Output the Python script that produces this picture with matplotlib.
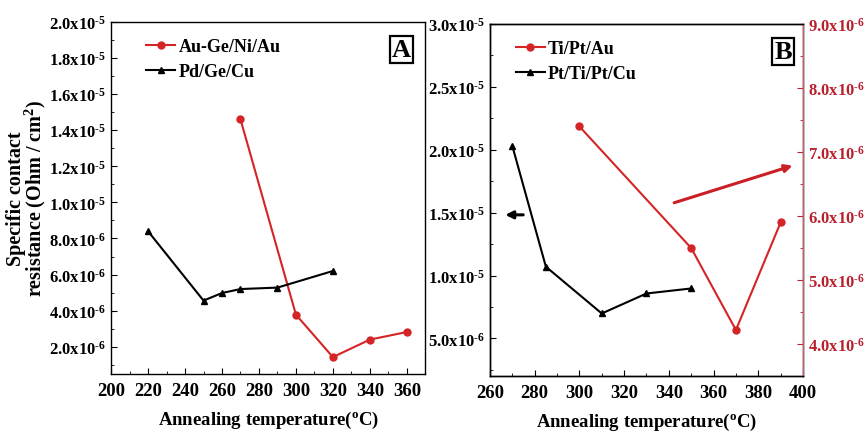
import matplotlib.pyplot as plt
from matplotlib.ticker import MultipleLocator, FuncFormatter

plt.rcParams["font.family"] = "Liberation Serif"
plt.rcParams["font.weight"] = "bold"
plt.rcParams["axes.labelweight"] = "bold"
plt.rcParams["mathtext.fontset"] = "custom"
plt.rcParams["mathtext.rm"] = "Liberation Serif:bold"
plt.rcParams["mathtext.it"] = "Liberation Serif:bold"
plt.rcParams["mathtext.bf"] = "Liberation Serif:bold"

RED = "#d42426"
AXRED = "#b8202e"

# panel A
temp_auge = [270, 300, 320, 340, 360]
rc_auge = [1.46e-5, 3.78e-6, 1.43e-6, 2.4e-6, 2.82e-6]
temp_pdge = [220, 250, 260, 270, 290, 320]
rc_pdge = [8.4e-6, 4.56e-6, 4.98e-6, 5.2e-6, 5.28e-6, 6.2e-6]

# panel B
temp_tipt = [300, 350, 370, 390]
rc_tipt = [7.4e-6, 5.5e-6, 4.22e-6, 5.9e-6]
temp_ptti = [270, 285, 310, 330, 350]
rc_ptti = [2.03e-5, 1.07e-5, 6.98e-6, 8.57e-6, 8.97e-6]


def sci(v, pos):
    if v <= 0:
        return ""
    e = int(f"{v:.1e}".split("e")[1])
    m = v / 10**e
    # short hyphen in the exponent instead of a wide minus sign
    return f"{m:.1f}x10$^{{\u2010{abs(e)}}}$"


def style(ax):
    ax.tick_params(which="both", direction="in")
    ax.tick_params(axis="x", labelsize=13.5, pad=6)
    ax.tick_params(axis="y", labelsize=12)
    ax.tick_params(which="major", length=4)
    ax.tick_params(which="minor", length=2.5)
    for s in ax.spines.values():
        s.set_linewidth(1.0)


fig = plt.figure(figsize=(8.68, 4.39), dpi=100)
axA = fig.add_axes([0.128, 0.146, 0.362, 0.802])
axB = fig.add_axes([0.5645, 0.141, 0.3606, 0.802])

# ---- A ----
axA.plot(temp_auge, rc_auge, "-o", color=RED, lw=1.5, ms=5, label="Au-Ge/Ni/Au")
axA.plot(temp_pdge, rc_pdge, "-^", color="black", lw=1.5, ms=5, label="Pd/Ge/Cu")
axA.set_xlim(200, 370)
axA.set_ylim(5e-7, 2e-5)
axA.xaxis.set_major_locator(MultipleLocator(20))
axA.xaxis.set_minor_locator(MultipleLocator(10))
axA.yaxis.set_major_locator(MultipleLocator(2e-6))
axA.yaxis.set_minor_locator(MultipleLocator(1e-6))
axA.yaxis.set_major_formatter(FuncFormatter(sci))
style(axA)
axA.set_xlabel("Annealing temperature($^{\\rm o}$C)", fontsize=13.5, labelpad=7)
axA.legend(loc="upper left", frameon=False, fontsize=13, handlelength=1.6,
           handletextpad=0.2, borderaxespad=0.5, labelspacing=0.45,
           bbox_to_anchor=(0.06, 1.0))
axA.text(0.955, 0.955, "A", transform=axA.transAxes, ha="right", va="top",
         fontsize=19, bbox=dict(boxstyle="square,pad=0.08", fc="white", ec="black", lw=1.6))

fig.text(0.031, 0.548, "Specific contact\nresistance (Ohm / cm$^2$)", rotation=90,
         ha="center", va="center", fontsize=14.5, linespacing=0.85)

# ---- B ----
axB.plot(temp_ptti, rc_ptti, "-^", color="black", lw=1.5, ms=5, label="Pt/Ti/Pt/Cu")
axB.set_xlim(260, 400)
axB.set_ylim(2e-6, 3e-5)
axB.xaxis.set_major_locator(MultipleLocator(20))
axB.xaxis.set_minor_locator(MultipleLocator(10))
axB.yaxis.set_major_locator(MultipleLocator(5e-6))
axB.yaxis.set_minor_locator(MultipleLocator(2.5e-6))
axB.yaxis.set_major_formatter(FuncFormatter(sci))
style(axB)
axB.set_xlabel("Annealing temperature($^{\\rm o}$C)", fontsize=13.5, labelpad=7)

axR = axB.twinx()
axR.plot(temp_tipt, rc_tipt, "-o", color=RED, lw=1.5, ms=5, label="Ti/Pt/Au")
axR.set_ylim(3.5e-6, 9e-6)
axR.yaxis.set_major_locator(MultipleLocator(1e-6))
axR.yaxis.set_minor_locator(MultipleLocator(5e-7))
axR.yaxis.set_major_formatter(FuncFormatter(sci))
style(axR)
axR.tick_params(axis="y", which="both", colors=AXRED, labelcolor=AXRED)
axR.spines["right"].set_color("#c06070")

h1, l1 = axR.get_legend_handles_labels()
h2, l2 = axB.get_legend_handles_labels()
axR.legend(h1 + h2, l1 + l2, loc="upper left", frameon=False, fontsize=13,
           handlelength=1.6, handletextpad=0.2, borderaxespad=0.5,
           labelspacing=0.45, bbox_to_anchor=(0.03, 1.0))
axR.text(0.965, 0.955, "B", transform=axR.transAxes, ha="right", va="top",
         fontsize=19, bbox=dict(boxstyle="square,pad=0.08", fc="white", ec="black", lw=1.6))

# arrows pointing to the axis each curve belongs to
axR.annotate("", xy=(0.04, 0.458), xytext=(0.115, 0.458), xycoords="axes fraction",
             arrowprops=dict(arrowstyle="-|>", color="black", lw=2.2, mutation_scale=11))
axR.annotate("", xy=(0.975, 0.60), xytext=(0.58, 0.49), xycoords="axes fraction",
             arrowprops=dict(arrowstyle="-|>", color="#cc1f25", lw=2.2, mutation_scale=11))

fig.savefig("out.png", dpi=100)
